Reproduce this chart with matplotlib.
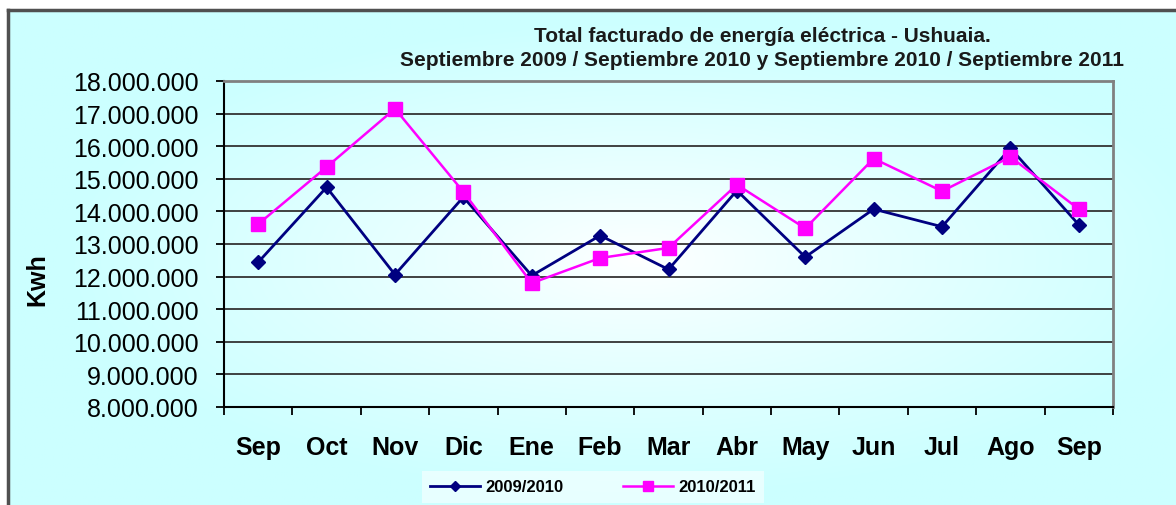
import matplotlib.pyplot as plt
import numpy as np
from matplotlib.ticker import FuncFormatter, FixedLocator

plt.rcParams['font.family'] = ['Liberation Sans', 'DejaVu Sans']

months = ["Sep", "Oct", "Nov", "Dic", "Ene", "Feb", "Mar",
          "Abr", "May", "Jun", "Jul", "Ago", "Sep"]
serie_2009_2010 = [12.44, 14.74, 12.06, 14.44, 12.03, 13.26, 12.22,
                   14.64, 12.60, 14.07, 13.53, 15.94, 13.59]
serie_2010_2011 = [13.61, 15.36, 17.15, 14.60, 11.80, 12.57, 12.88,
                   14.82, 13.48, 15.62, 14.62, 15.67, 14.07]
serie_2009_2010 = [v * 1e6 for v in serie_2009_2010]
serie_2010_2011 = [v * 1e6 for v in serie_2010_2011]
y_ticks = [8e6 + i * 1e6 for i in range(11)]

W, H = 1176, 506
fig = plt.figure(figsize=(W / 100, H / 100), dpi=100)

# radial gradient background (cyan edges, white centre)
bg = fig.add_axes([8 / W, 0, 1 - 8 / W, 1 - 11 / H])
xs = np.linspace(8, W, 400)
ys = np.linspace(11, H, 200)
X, Y = np.meshgrid(xs, ys)
r = np.sqrt(((X - 640) / 580) ** 2 + ((Y - 260) / 240) ** 2)
r = np.clip(r, 0, 1) ** 0.85
cyan = np.array([0.80, 1.0, 1.0])
img = (1 - r)[..., None] * np.ones(3) + r[..., None] * cyan
bg.imshow(img, aspect='auto', extent=[0, 1, 0, 1], origin='upper')
bg.set_xlim(0, 1)
bg.set_ylim(0, 1)
bg.axis('off')
bg.plot([0, 0], [0, 1], color='#505050', lw=2.5, clip_on=False)
bg.plot([0, 1], [1, 1], color='#505050', lw=2.5, clip_on=False)

ax = fig.add_axes([224 / W, 1 - 408 / H, (1113 - 224) / W, (408 - 82) / H])
ax.set_facecolor('none')
x = np.arange(len(months))

ax.plot(x, serie_2009_2010, color='#000080', lw=2, marker='D', ms=7,
        label='2009/2010', zorder=3)
ax.plot(x, serie_2010_2011, color='#FF00FF', lw=1.8, marker='s', ms=9.5,
        label='2010/2011', zorder=4)

ax.set_xlim(-0.5, len(months) - 0.5)
ax.set_ylim(8e6, 18e6)
ax.set_yticks(y_ticks)
ax.yaxis.set_major_formatter(FuncFormatter(lambda v, p: f"{v:,.0f}".replace(",", ".")))
ax.grid(axis='y', color='#333333', lw=1.3)
ax.set_axisbelow(True)

ax.xaxis.set_major_locator(FixedLocator(np.arange(-0.5, len(months), 1.0)))
ax.xaxis.set_minor_locator(FixedLocator(x))
ax.set_xticklabels([])
ax.set_xticklabels(months, minor=True)
ax.tick_params(axis='x', which='major', direction='out', length=6, width=1.3, color='black')
ax.tick_params(axis='x', which='minor', length=0, pad=20, labelsize=18)
for lbl in ax.get_xticklabels(minor=True):
    lbl.set_fontweight('bold')
ax.tick_params(axis='y', direction='out', length=6, width=1.3, labelsize=18, pad=12)

for side in ['left', 'bottom']:
    ax.spines[side].set_color('black')
    ax.spines[side].set_linewidth(1.5)
for side in ['top', 'right']:
    ax.spines[side].set_color('#808080')
    ax.spines[side].set_linewidth(2)

fig.text(37 / W, 1 - 280 / H, "Kwh", rotation=90, ha='center', va='center',
         fontsize=18, fontweight='bold')
fig.text(762 / W, 1 - 37 / H, "Total facturado de energía eléctrica - Ushuaia.",
         ha='center', va='center', fontsize=15, fontweight='bold', color='#1a1a1a')
fig.text(762 / W, 1 - 61 / H,
         "Septiembre 2009 / Septiembre 2010 y Septiembre 2010 / Septiembre 2011",
         ha='center', va='center', fontsize=15, fontweight='bold', color='#1a1a1a')

leg = fig.legend(loc='center', bbox_to_anchor=(593 / W, 1 - 488 / H), ncol=2,
                 frameon=True, handlelength=3.0, handletextpad=0.3,
                 columnspacing=3.6, markerscale=0.75,
                 prop={'weight': 'bold', 'size': 12})
leg.get_frame().set_facecolor('white')
leg.get_frame().set_edgecolor('none')
leg.get_frame().set_alpha(0.55)
leg.get_frame().set_boxstyle('square', pad=0.1)

fig.savefig('out.png', dpi=100)
